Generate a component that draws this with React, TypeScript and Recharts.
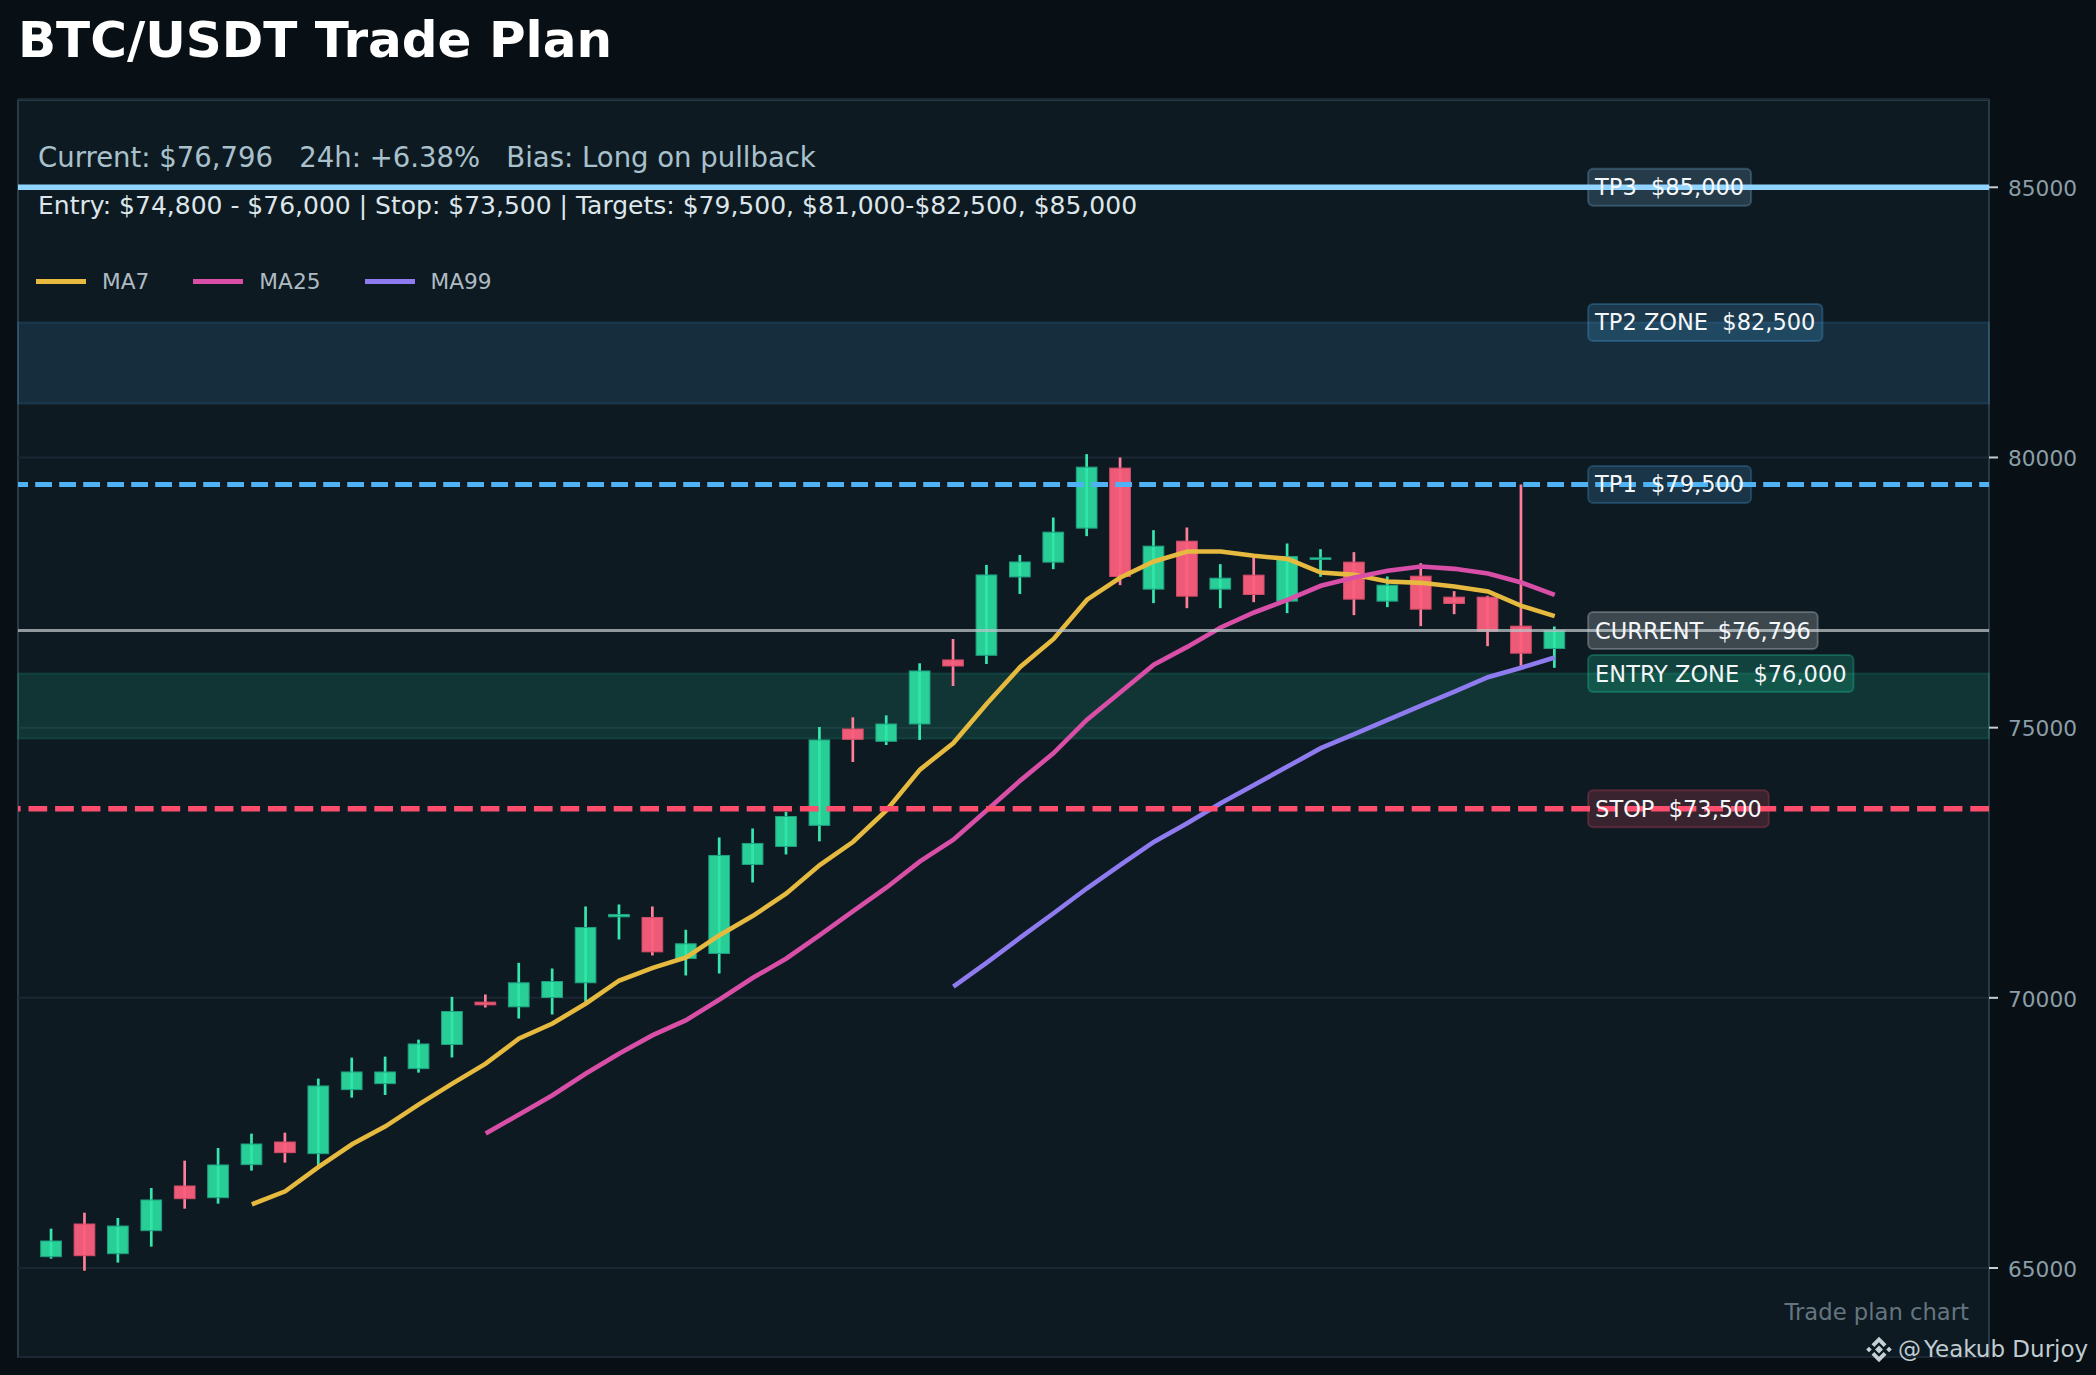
import { useLayoutEffect, useRef, useState } from "react";
import {
  Bar,
  CartesianGrid,
  ComposedChart,
  Legend,
  Line,
  ReferenceArea,
  ReferenceDot,
  ReferenceLine,
  XAxis,
  YAxis,
} from "recharts";

const FONT = "'DejaVu Sans', sans-serif";

const opens = [
  65210, 65814, 65265, 65691, 66518, 66302, 66913, 67332, 67116, 68301, 68412, 68690,
  69136, 69920, 69833, 70006, 70278, 71499, 71487, 70728, 70821, 72468, 72801, 73192,
  74975, 74747, 75068, 76253, 76339, 77789, 78063, 78692, 79803, 77563, 78451, 77563,
  77822, 77341, 78112, 78063, 77341, 77803, 77415, 77415, 76878, 76465,
];
const highs = [
  65728, 66024, 65925, 66480, 66987, 67221, 67487, 67505, 68505, 68893, 68912, 69226,
  70018, 70062, 70648, 70543, 71691, 71728, 71691, 71259, 72968, 73134, 73443, 75012,
  75191, 75228, 76191, 76641, 78011, 78196, 78889, 80062, 80000, 78655, 78704, 78026,
  78149, 78408, 78303, 78248, 77797, 78044, 77526, 77440, 79500, 76872,
];
const lows = [
  65173, 64950, 65100, 65395, 66098, 66191, 66802, 66950, 66900, 68153, 68202, 68616,
  68896, 69821, 69617, 69691, 69926, 71080, 70784, 70413, 70450, 72135, 72653, 72896,
  74364, 74679, 74772, 75771, 76178, 77474, 77933, 78544, 77637, 77304, 77211, 77211,
  77322, 77119, 77791, 77082, 77230, 76878, 77100, 76508, 76144, 76107,
];
const closes = [
  65500, 65228, 65777, 66259, 66283, 66907, 67295, 67135, 68369, 68628, 68628, 69146,
  69747, 69870, 70278, 70302, 71302, 71543, 70851, 71000, 72635, 72857, 73356, 74772,
  74784, 75068, 76049, 76141, 77826, 78066, 78618, 79821, 77797, 78359, 77433, 77766,
  77464, 78168, 78143, 77378, 77637, 77193, 77298, 76785, 76378, 76796,
];
const ma7 = [
  null, null, null, null, null, null, 66178, 66419, 66870, 67289, 67622, 68029,
  68412, 68782, 69247, 69525, 69895, 70321, 70555, 70747, 71160, 71518, 71931, 72456,
  72888, 73474, 74223, 74716, 75444, 76123, 76641, 77369, 77779, 78075, 78260, 78260,
  78180, 78124, 77871, 77828, 77705, 77680, 77612, 77520, 77254, 77063,
];
const ma25 = [
  null, null, null, null, null, null, null, null, null, null, null, null,
  null, 67489, 67840, 68198, 68599, 68970, 69309, 69587, 69969, 70370, 70728, 71160,
  71604, 72042, 72526, 72927, 73470, 74020, 74530, 75148, 75654, 76166, 76495, 76853,
  77131, 77365, 77625, 77779, 77902, 77982, 77939, 77853, 77686, 77458,
];
const ma99 = [
  null, null, null, null, null, null, null, null, null, null, null, null,
  null, null, null, null, null, null, null, null, null, null, null, null,
  null, null, null, 70207, 70651, 71114, 71565, 72028, 72460, 72885, 73231, 73602,
  73940, 74279, 74620, 74879, 75143, 75408, 75667, 75934, 76110, 76298,
];

const priceTicks = [65000, 70000, 75000, 80000, 85000];
const maNames = ["MA7", "MA25", "MA99"];

const tags = [
  { text: "TP3  $85,000", price: 85000, color: "#90d5ff", alpha: 0.18 },
  { text: "TP2 ZONE  $82,500", price: 82500, color: "#4fb2f5", alpha: 0.2 },
  { text: "TP1  $79,500", price: 79500, color: "#4fb2f5", alpha: 0.18 },
  { text: "CURRENT  $76,796", price: 76796, color: "#cfd8dc", alpha: 0.24 },
  { text: "ENTRY ZONE  $76,000", price: 76000, color: "#22d3a0", alpha: 0.22 },
  { text: "STOP  $73,500", price: 73500, color: "#ff4d6d", alpha: 0.18 },
];

const chartData = opens.map((open, i) => ({
  idx: i,
  open,
  close: closes[i],
  high: highs[i],
  low: lows[i],
  range: [lows[i], highs[i]],
  ma7: ma7[i],
  ma25: ma25[i],
  ma99: ma99[i],
}));

const UP = { body: "#2ee6a6", wick: "#36e6ae", edge: "#1f9f80", alpha: 0.88 };
const DOWN = { body: "#fb5f7d", wick: "#ff7f9a", edge: "#d24c68", alpha: 0.95 };

// bar rect spans low..high, body position comes from the same scale
function Candle(props: any) {
  const { x, y, width, height, payload } = props;
  const { open, close, high, low } = payload;
  const toY = (p: number) => y + ((high - p) / (high - low)) * height;
  const c = close >= open ? UP : DOWN;
  const top = toY(Math.max(open, close));
  const bottom = toY(Math.min(open, close));
  const mid = x + width / 2;
  return (
    <g>
      <line x1={mid} x2={mid} y1={y} y2={y + height} stroke={c.wick} strokeWidth={2.7} />
      <rect
        x={x}
        y={top}
        width={width}
        height={bottom - top}
        fill={c.body}
        fillOpacity={c.alpha}
        stroke={c.edge}
        strokeWidth={1}
      />
    </g>
  );
}

function PriceTag({ cx, cy, text, color, alpha }: any) {
  const ref = useRef<SVGTextElement>(null);
  const [w, setW] = useState(160);
  useLayoutEffect(() => {
    if (ref.current) setW(ref.current.getComputedTextLength());
  }, [text]);
  return (
    <g>
      <rect
        x={cx}
        y={cy - 18.5}
        width={w + 14}
        height={37}
        rx={5}
        fill={color}
        fillOpacity={alpha}
        stroke={color}
        strokeOpacity={alpha + 0.06}
        strokeWidth={2}
      />
      <text
        ref={ref}
        x={cx + 7}
        y={cy + 8}
        fill="#f4f7f9"
        fontSize={22.5}
        fontFamily={FONT}
        style={{ whiteSpace: "pre" }}
      >
        {text}
      </text>
    </g>
  );
}

function MaLegend({ payload }: any) {
  const items = maNames
    .map((name) => (payload || []).find((p: any) => p.value === name))
    .filter(Boolean);
  return (
    <div style={{ display: "flex", alignItems: "center", fontFamily: FONT, fontSize: 21.7, color: "#aebbc3" }}>
      {items.map((item: any) => (
        <div key={item.value} style={{ display: "flex", alignItems: "center", marginRight: 44 }}>
          <span style={{ width: 50, height: 4.6, background: item.color, marginRight: 16 }} />
          <span>{item.value}</span>
        </div>
      ))}
    </div>
  );
}

function BinanceMark() {
  return (
    <svg width={28} height={29} viewBox="0 0 24 24" style={{ position: "absolute", left: 1865, top: 1335 }}>
      <path
        fill="#c6d1d6"
        d="M12 8.6 15.4 12 12 15.4 8.6 12Z M3.4 9.6 5.8 12 3.4 14.4 1 12Z M20.6 9.6 23 12 20.6 14.4 18.2 12Z M12 1 18.4 7.4 16 9.8 12 5.8 8 9.8 5.6 7.4Z M12 23 5.6 16.6 8 14.2 12 18.2 16 14.2 18.4 16.6Z"
      />
    </svg>
  );
}

export default function App() {
  return (
    <div
      style={{
        position: "absolute",
        left: 0,
        top: 0,
        width: 2096,
        height: 1375,
        overflow: "hidden",
        background: "#080f15",
        fontFamily: FONT,
      }}
    >
      <div
        style={{
          position: "absolute",
          left: 17,
          top: 98.5,
          width: 1973,
          height: 1259,
          boxSizing: "border-box",
          background: "#0e1a22",
          border: "2px solid #283a46",
        }}
      />
      <div style={{ position: "absolute", left: 18, top: 11, fontSize: 50, fontWeight: 700, color: "#ffffff", lineHeight: "58px" }}>
        BTC/USDT Trade Plan
      </div>
      <ComposedChart
        width={2096}
        height={1375}
        data={chartData}
        margin={{ top: 99, right: 0, bottom: 18, left: 18 }}
        style={{ position: "absolute", left: 0, top: 0 }}
      >
        <CartesianGrid vertical={false} stroke="#1b2833" strokeWidth={2} />
        <XAxis
          dataKey="idx"
          type="number"
          domain={[-1, 58]}
          ticks={chartData.map((d) => d.idx)}
          allowDataOverflow
          hide
        />
        <YAxis
          orientation="right"
          width={107}
          domain={[63353, 86634]}
          allowDataOverflow
          ticks={priceTicks}
          axisLine={false}
          tickSize={9}
          tickMargin={10}
          tickLine={{ stroke: "#c5d0d6", strokeWidth: 2 }}
          tick={{ fill: "#8b9ea8", fontSize: 21.7, fontFamily: FONT, dy: 1 }}
        />
        <ReferenceArea y1={81000} y2={82500} fill="#4fb2f5" fillOpacity={0.13} stroke="#4fb2f5" strokeOpacity={0.14} strokeWidth={2} />
        <ReferenceArea y1={74800} y2={76000} fill="#22d3a0" fillOpacity={0.15} stroke="#22d3a0" strokeOpacity={0.14} strokeWidth={2} />
        <Bar dataKey="range" barSize={20.7} shape={Candle} legendType="none" isAnimationActive={false} />
        <Line dataKey="ma7" name="MA7" stroke="#e6b93f" strokeWidth={4.6} dot={false} activeDot={false} isAnimationActive={false} />
        <Line dataKey="ma25" name="MA25" stroke="#d94fa8" strokeWidth={4.6} dot={false} activeDot={false} isAnimationActive={false} />
        <Line dataKey="ma99" name="MA99" stroke="#8f7bf0" strokeWidth={4.6} dot={false} activeDot={false} isAnimationActive={false} />
        <ReferenceLine y={85000} stroke="#90d5ff" strokeWidth={5.5} />
        <ReferenceLine y={79500} stroke="#4fb2f5" strokeWidth={5} strokeDasharray="16.8 7.2" strokeDashoffset={7} />
        <ReferenceLine y={76796} stroke="#b9c3c7" strokeOpacity={0.75} strokeWidth={3} />
        <ReferenceLine y={73500} stroke="#ff4d6d" strokeWidth={5.5} strokeDasharray="18.7 7.9" />
        {tags.map((t) => (
          <ReferenceDot
            key={t.text}
            x={46}
            y={t.price}
            shape={(p: any) => <PriceTag cx={p.cx} cy={p.cy} text={t.text} color={t.color} alpha={t.alpha} />}
          />
        ))}
        <Legend
          layout="vertical"
          align="center"
          verticalAlign="middle"
          content={<MaLegend />}
          wrapperStyle={{ position: "absolute", left: 36, top: 269, width: "auto" }}
        />
      </ComposedChart>
      <div style={{ position: "absolute", left: 38, top: 141, fontSize: 27.5, color: "#a9c1cc", whiteSpace: "pre" }}>
        {"Current: $76,796   24h: +6.38%   Bias: Long on pullback"}
      </div>
      <div style={{ position: "absolute", left: 38, top: 191, fontSize: 25, color: "#dde6ea", whiteSpace: "pre" }}>
        {"Entry: $74,800 - $76,000 | Stop: $73,500 | Targets: $79,500, $81,000-$82,500, $85,000"}
      </div>
      <div style={{ position: "absolute", right: 127, top: 1299, fontSize: 22.7, color: "#64757f" }}>Trade plan chart</div>
      <BinanceMark />
      <div style={{ position: "absolute", left: 1898, top: 1336, fontSize: 23, color: "#c0ccd1", whiteSpace: "pre" }}>
        <span>@</span>
        <span style={{ marginLeft: 3 }}>Yeakub Durjoy</span>
      </div>
    </div>
  );
}
